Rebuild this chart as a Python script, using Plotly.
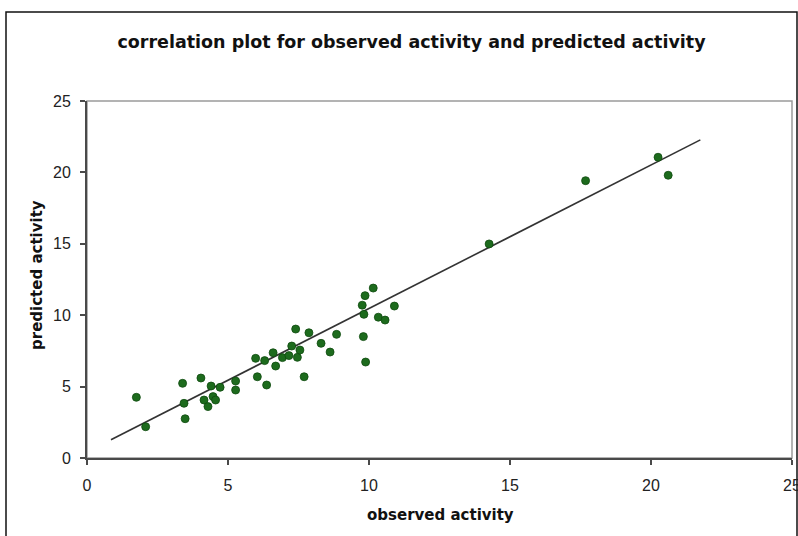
import plotly.graph_objects as go

# observed / predicted activity values
observed = [1.75, 2.08, 3.39, 3.44, 3.48, 4.04, 4.15, 4.29, 4.40, 4.47, 4.56, 4.72,
            5.27, 5.27, 5.98, 6.04, 6.30, 6.37, 6.60, 6.69,
            6.93, 7.16, 7.26, 7.40, 7.46, 7.55, 7.70, 7.87, 8.30, 8.62, 8.85,
            9.80, 9.88, 9.76, 9.82, 9.86, 10.15, 10.33, 10.57, 10.90,
            14.26, 17.68, 20.25, 20.61]
predicted = [4.25, 2.19, 5.23, 3.83, 2.75, 5.60, 4.06, 3.60, 5.04, 4.30, 4.06, 4.95,
             5.39, 4.76, 6.98, 5.69, 6.82, 5.11, 7.37, 6.44,
             7.03, 7.17, 7.84, 9.03, 7.05, 7.56, 5.69, 8.77, 8.03, 7.42, 8.66,
             8.50, 6.72, 10.70, 10.06, 11.37, 11.90, 9.86, 9.66, 10.64,
             14.99, 19.42, 21.06, 19.80]

# trend line
trend_x = [0.85, 21.75]
trend_slope = 1.005
trend_intercept = 0.42
trend_y = [trend_intercept + trend_slope * v for v in trend_x]

tick_vals = [0, 5, 10, 15, 20, 25]
tick_text = ["0", "5", "10", "15", "20", "25"]

W, H = 798, 536
L, R, T, B = 87, 6, 101, 78
pw = W - L - R
ph = H - T - B

def px_to_paper_x(p):
    return (p - L) / pw

def px_to_paper_y(p):
    return (H - B - p) / ph

fig = go.Figure()
fig.add_trace(go.Scatter(x=trend_x, y=trend_y, mode="lines",
                         line=dict(color="#333333", width=1.6),
                         hoverinfo="skip", showlegend=False))
fig.add_trace(go.Scatter(x=observed, y=predicted, mode="markers",
                         marker=dict(symbol="circle", size=8, color="#1d6b1d",
                                     line=dict(color="#0f4a0f", width=0.8)),
                         showlegend=False))

title_font = "DejaVu Sans, Verdana, sans-serif"
font_ticks = dict(family="Liberation Sans, Arial, sans-serif", size=16, color="#222222")
axis_common = dict(range=[0, 25], tickvals=tick_vals, ticktext=tick_text,
                   showgrid=False, zeroline=False, showline=True,
                   linecolor="#4a4a4a", linewidth=2, ticks="outside",
                   ticklen=5, tickwidth=1.5, tickcolor="#4a4a4a",
                   tickfont=font_ticks, fixedrange=True, ticklabeloverflow="allow",
                   automargin=False)

fig.update_layout(
    width=W, height=H, autosize=False,
    margin=dict(l=L, r=R, t=T, b=B, pad=0, autoexpand=False),
    paper_bgcolor="white", plot_bgcolor="white",
    xaxis=dict(**axis_common, ticklabelstandoff=7),
    yaxis=dict(**axis_common, ticklabelstandoff=6),
    title=dict(text="<b>correlation plot for observed activity and predicted activity</b>",
               x=411.5 / W, xanchor="center", y=1 - 42 / H, yanchor="middle",
               font=dict(family=title_font, size=17.5, color="#111111")),
    showlegend=False,
)

fig.add_annotation(text="<b>observed activity</b>", xref="paper", yref="paper",
                   x=px_to_paper_x(441), y=px_to_paper_y(515), showarrow=False,
                   xanchor="center", yanchor="middle",
                   font=dict(family=title_font, size=15, color="#111111"))
fig.add_annotation(text="<b>predicted activity</b>", xref="paper", yref="paper",
                   x=px_to_paper_x(37), y=px_to_paper_y(275), showarrow=False,
                   textangle=-90, xanchor="center", yanchor="middle",
                   font=dict(family=title_font, size=15, color="#111111"))

# plot-area border (gray, top/right)
fig.add_shape(type="rect", xref="paper", yref="paper", x0=0, x1=1, y0=0, y1=1,
              line=dict(color="#9a9a9a", width=1.5), layer="below")
# outer chart border
fig.add_shape(type="rect", xref="paper", yref="paper",
              x0=px_to_paper_x(6), x1=px_to_paper_x(797),
              y0=px_to_paper_y(548), y1=px_to_paper_y(12),
              line=dict(color="#111111", width=1.5), layer="below")

fig.write_html("out.html",
               config={"displayModeBar": False, "responsive": False},
               post_script="document.body.style.margin='0';document.body.style.overflow='hidden';")
